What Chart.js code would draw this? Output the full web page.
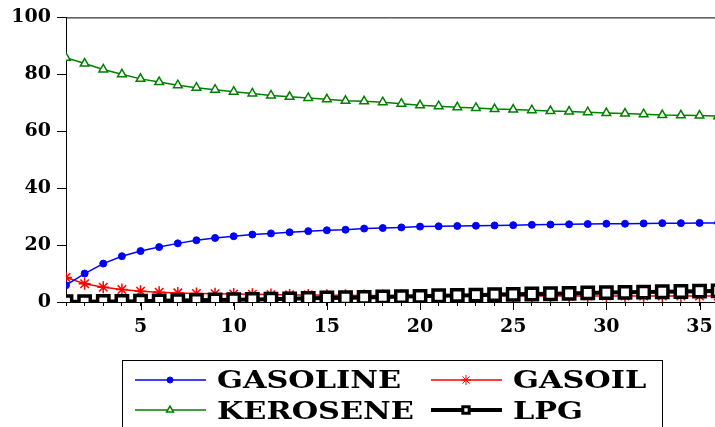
<!DOCTYPE html>
<html>
<head>
<meta charset="utf-8">
<script src="https://cdn.jsdelivr.net/npm/chart.js@4.4.1/dist/chart.umd.min.js"></script>
<style>
  html, body { margin: 0; padding: 0; background: #fff; }
  canvas { display: block; }
</style>
</head>
<body>
<canvas id="fuelChart" width="715" height="427"></canvas>
<script>
// periods on the x axis
var periods = [1, 2, 3, 4, 5, 6, 7, 8, 9, 10, 11, 12, 13, 14, 15, 16, 17, 18,
               19, 20, 21, 22, 23, 24, 25, 26, 27, 28, 29, 30, 31, 32, 33, 34, 35, 36];

var gasoline = [5.9, 10.0, 13.5, 16.1, 17.9, 19.3, 20.6, 21.7, 22.5, 23.1, 23.7, 24.1,
                24.5, 24.9, 25.2, 25.4, 25.8, 26.0, 26.2, 26.5, 26.6, 26.7, 26.8, 26.9,
                27.0, 27.1, 27.2, 27.3, 27.4, 27.5, 27.5, 27.6, 27.7, 27.7, 27.8, 27.8];

var gasoil = [8.6, 6.4, 5.2, 4.4, 3.8, 3.4, 3.2, 3.0, 2.9, 2.8, 2.7, 2.6,
              2.5, 2.5, 2.4, 2.4, 2.3, 2.3, 2.3, 2.2, 2.2, 2.2, 2.2, 2.2,
              2.1, 2.1, 2.1, 2.1, 2.1, 2.1, 2.1, 2.1, 2.1, 2.1, 2.1, 2.1];

var kerosene = [85.8, 83.8, 81.7, 80.0, 78.4, 77.3, 76.2, 75.3, 74.6, 73.9, 73.3, 72.6,
                72.1, 71.7, 71.2, 70.7, 70.5, 70.2, 69.7, 69.1, 68.8, 68.4, 68.2, 67.8,
                67.6, 67.4, 67.1, 66.9, 66.7, 66.4, 66.2, 66.0, 65.7, 65.6, 65.5, 65.3];

var lpg = [0.1, 0.1, 0.2, 0.2, 0.3, 0.4, 0.5, 0.6, 0.7, 0.8, 0.9, 1.0,
           1.1, 1.3, 1.4, 1.5, 1.6, 1.8, 1.9, 2.0, 2.2, 2.3, 2.4, 2.6,
           2.7, 2.8, 2.9, 3.0, 3.2, 3.3, 3.4, 3.5, 3.6, 3.7, 3.8, 3.9];

var yTicks = [0, 20, 40, 60, 80, 100];
var seriesNames = ["GASOLINE", "GASOIL", "KEROSENE", "LPG"];

function toPoints(values) {
    return periods.map(function (p, i) { return { x: p, y: values[i] }; });
}

var serifBold = "'DejaVu Serif', 'Liberation Serif', serif";

// longer tick marks on every labelled period
var majorTicks = {
    id: "majorTicks",
    afterDraw: function (chart) {
        var xs = chart.scales.x;
        var ctx = chart.ctx;
        ctx.save();
        ctx.strokeStyle = "#000";
        ctx.lineWidth = 1;
        xs.ticks.forEach(function (t) {
            if (t.value % 5 !== 0) return;
            var px = Math.round(xs.getPixelForValue(t.value)) + 0.5;
            ctx.beginPath();
            ctx.moveTo(px, xs.top);
            ctx.lineTo(px, xs.top + 8);
            ctx.stroke();
        });
        ctx.restore();
    }
};

// EViews style legend in a box under the plot, plus the top frame line
var boxLegend = {
    id: "boxLegend",
    afterDraw: function (chart) {
        var ctx = chart.ctx;
        var area = chart.chartArea;
        ctx.save();

        // top frame
        ctx.strokeStyle = "#000";
        ctx.lineWidth = 1;
        ctx.beginPath();
        ctx.moveTo(area.left, area.top + 0.5);
        ctx.lineTo(chart.width, area.top + 0.5);
        ctx.stroke();

        // legend box
        ctx.strokeRect(122.5, 360.5, 540, 80);

        var slots = [
            { ds: 0, x: 135, y: 380, base: 388 },
            { ds: 1, x: 431, y: 380, base: 388 },
            { ds: 2, x: 135, y: 410, base: 419 },
            { ds: 3, x: 431, y: 410, base: 419 }
        ];
        var legendMarks = [
            { pointStyle: "circle", radius: 3, borderWidth: 1 },
            { pointStyle: "star", radius: 5, borderWidth: 1 },
            { pointStyle: "triangle", radius: 4, borderWidth: 1.5 },
            { pointStyle: "rect", radius: 4.5, borderWidth: 3 }
        ];

        ctx.font = "bold 25px " + serifBold;
        var sx = 184 / ctx.measureText("GASOLINE").width;

        slots.forEach(function (s) {
            var ds = chart.data.datasets[s.ds];
            ctx.strokeStyle = ds.borderColor;
            ctx.lineWidth = ds.borderWidth;
            ctx.beginPath();
            ctx.moveTo(s.x, s.y);
            ctx.lineTo(s.x + 71, s.y);
            ctx.stroke();

            ctx.fillStyle = ds.pointBackgroundColor;
            ctx.strokeStyle = ds.pointBorderColor;
            ctx.lineWidth = legendMarks[s.ds].borderWidth;
            Chart.helpers.drawPoint(ctx, legendMarks[s.ds], s.x + 35, s.y);

            ctx.save();
            ctx.translate(s.x + 82, s.base);
            ctx.scale(sx, 1);
            ctx.fillStyle = "#000";
            ctx.textBaseline = "alphabetic";
            ctx.fillText(seriesNames[s.ds], 0, 0);
            ctx.restore();
        });
        ctx.restore();
    }
};

var fuelChart = new Chart(document.getElementById("fuelChart"), {
    type: "line",
    data: {
        datasets: [{
            label: seriesNames[0],
            data: toPoints(gasoline),
            borderColor: "#0000ff",
            borderWidth: 1.5,
            pointStyle: "circle",
            pointRadius: 3.5,
            pointBackgroundColor: "#0000ff",
            pointBorderColor: "#0000ff",
            pointBorderWidth: 1,
            clip: 0
        }, {
            label: seriesNames[1],
            data: toPoints(gasoil),
            borderColor: "#ff0000",
            borderWidth: 1.5,
            pointStyle: "star",
            pointRadius: 6,
            pointBackgroundColor: "#ff0000",
            pointBorderColor: "#ff0000",
            pointBorderWidth: 1.5,
            clip: 0
        }, {
            label: seriesNames[2],
            data: toPoints(kerosene),
            borderColor: "#008000",
            borderWidth: 1.5,
            pointStyle: "triangle",
            pointRadius: 5,
            pointBackgroundColor: "#ffffff",
            pointBorderColor: "#008000",
            pointBorderWidth: 1.5,
            clip: 0
        }, {
            label: seriesNames[3],
            data: toPoints(lpg),
            order: -1,
            borderColor: "#000000",
            borderWidth: 4,
            pointStyle: "rect",
            pointRadius: 8,
            pointBackgroundColor: "#ffffff",
            pointBorderColor: "#000000",
            pointBorderWidth: 3.5,
            clip: 0
        }]
    },
    options: {
        responsive: false,
        animation: false,
        layout: {
            autoPadding: false,
            padding: { top: 16, right: 0, bottom: 85, left: 0 }
        },
        plugins: {
            legend: { display: false },
            tooltip: { enabled: false }
        },
        scales: {
            x: {
                type: "linear",
                min: 1,
                max: 35.83,
                afterFit: function (scale) {
                    scale.height = 40;
                    scale.paddingRight = 0;
                    scale.paddingLeft = 0;
                },
                ticks: {
                    stepSize: 1,
                    autoSkip: false,
                    maxRotation: 0,
                    includeBounds: false,
                    padding: 10,
                    color: "#000",
                    font: { family: serifBold, size: 19, weight: "bold" },
                    callback: function (value) {
                        return value % 5 === 0 ? String(value) : "";
                    }
                },
                grid: {
                    drawOnChartArea: false,
                    tickLength: 4,
                    color: "#000"
                },
                border: { color: "#000", width: 1 }
            },
            y: {
                min: 0,
                max: 100,
                afterFit: function (scale) { scale.width = 66; },
                afterBuildTicks: function (scale) {
                    scale.ticks = yTicks.map(function (v) { return { value: v }; });
                },
                ticks: {
                    padding: 6,
                    color: "#000",
                    font: { family: serifBold, size: 19, weight: "bold" }
                },
                grid: {
                    drawOnChartArea: false,
                    tickLength: 9,
                    color: "#000"
                },
                border: { color: "#000", width: 1 }
            }
        }
    },
    plugins: [majorTicks, boxLegend]
});
</script>
</body>
</html>
